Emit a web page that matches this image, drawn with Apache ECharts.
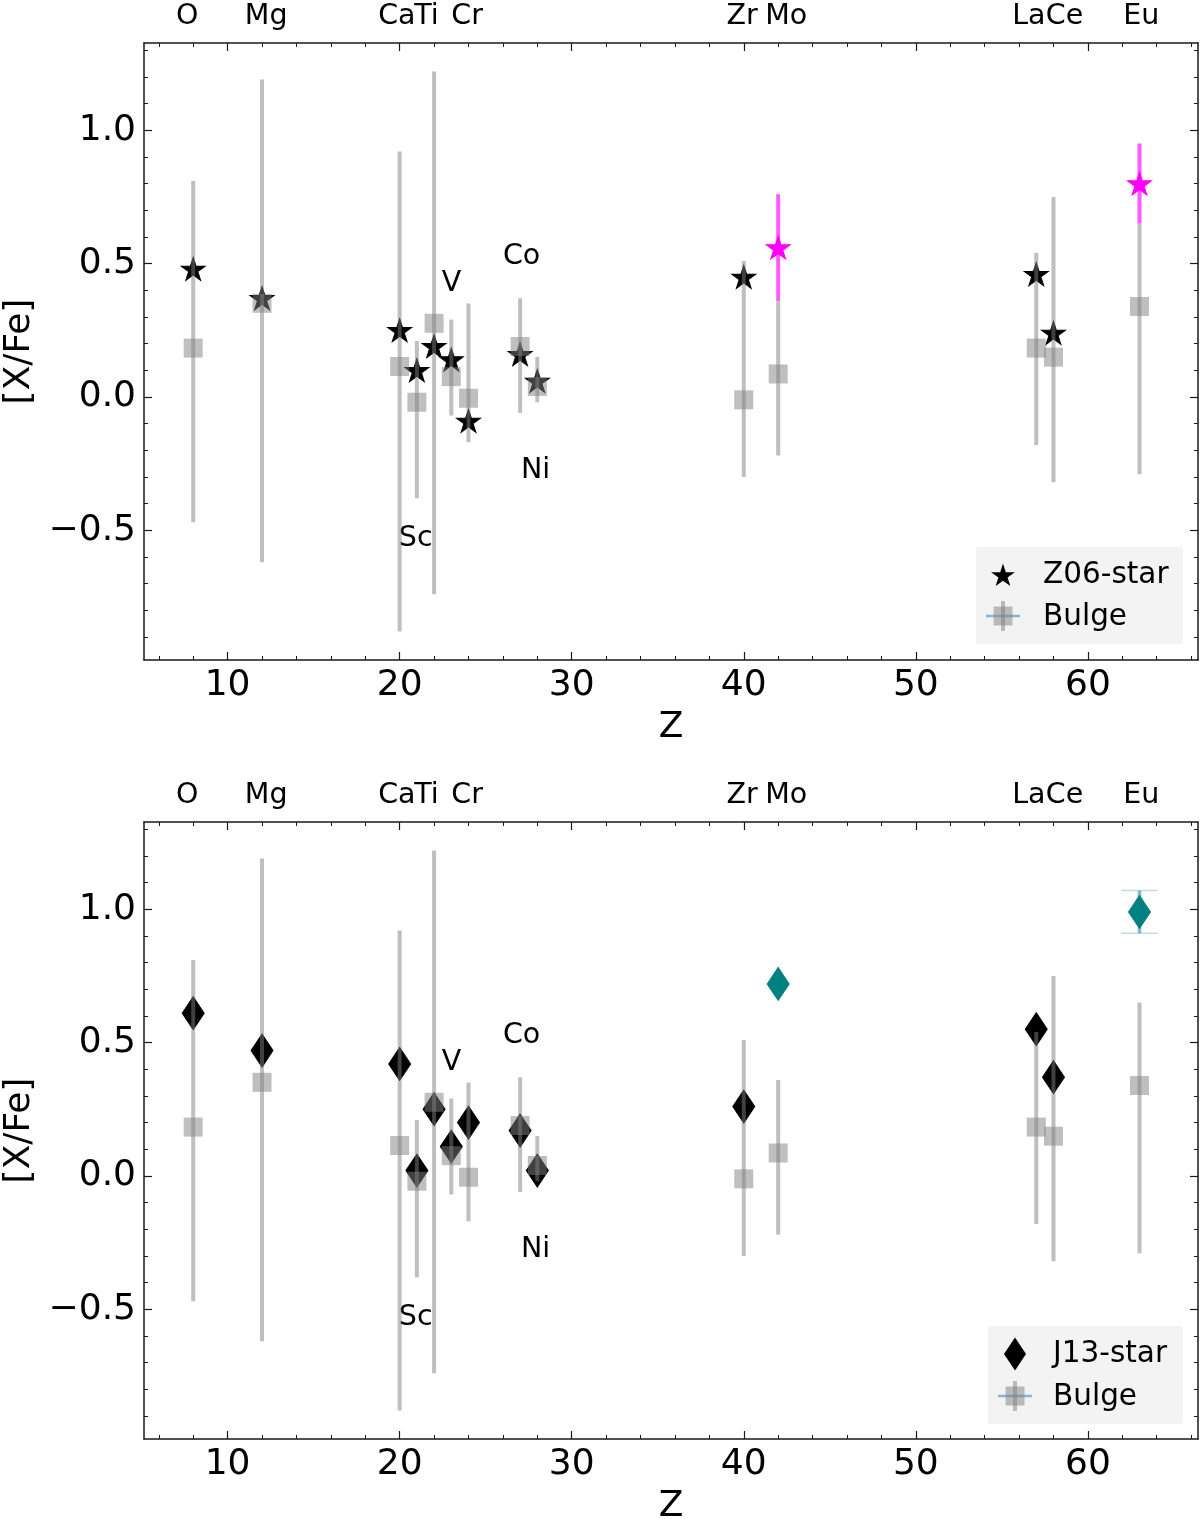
<!DOCTYPE html>
<html>
<head>
<meta charset="utf-8">
<script src="https://cdn.jsdelivr.net/npm/echarts@6/dist/echarts.min.js"></script>
<style>html,body{margin:0;padding:0;background:#fff}#c{width:1200px;height:1519px}</style>
</head>
<body>
<div id="c"></div>
<script>
// ---------------- data ----------------
const elementZ = [8, 12, 20, 21, 22, 23, 24, 27, 28, 40, 42, 57, 58, 63];
const bulgeVal = [0.183, 0.351, 0.114, -0.020, 0.276, 0.076, -0.005, 0.189, 0.039, -0.011, 0.086, 0.183, 0.149, 0.339];
const bulgeLow = [-0.47, -0.62, -0.88, -0.38, -0.74, -0.07, -0.17, -0.06, -0.02, -0.30, -0.22, -0.18, -0.32, -0.29];
const bulgeHigh = [0.81, 1.19, 0.92, 0.21, 1.22, 0.29, 0.35, 0.37, 0.15, 0.51, 0.36, 0.54, 0.75, 0.65];

const starZ = [8, 12, 20, 21, 22, 23, 24, 27, 28, 40, 57, 58];
const z06Val = [0.48, 0.37, 0.25, 0.10, 0.19, 0.14, -0.09, 0.16, 0.06, 0.45, 0.46, 0.24];
const j13Val = [0.61, 0.47, 0.42, 0.02, 0.25, 0.11, 0.20, 0.17, 0.02, 0.26, 0.55, 0.37];

const specialZ = [42, 63];
const z06SpecialVal = [0.56, 0.80];
const z06SpecialErr = [0.20, 0.15];
const j13SpecialVal = [0.72, 0.99];
const j13SpecialErr = [0, 0.08];

const topLabels = ['O', 'Mg', 'Ca', 'Ti', 'Cr', 'Zr', 'Mo', 'La', 'Ce', 'Eu'];
const topLabelZ = [7.0, 11.0, 18.75, 20.85, 23.0, 39.0, 41.25, 55.6, 57.55, 62.05];
const topLabelY = 1.4;
const innerLabels = ['V', 'Co', 'Ni', 'Sc'];
const innerLabelZ = [22.45, 26.0, 27.05, 19.95];
const innerLabelY = [0.40, 0.50, -0.30, -0.555];

const xMajor = [10, 20, 30, 40, 50, 60];
const xMinor = [6, 8, 12, 14, 16, 18, 22, 24, 26, 28, 32, 34, 36, 38, 42, 44, 46, 48, 52, 54, 56, 58, 62, 64, 66];
const yMajor = [-0.5, 0, 0.5, 1.0];
const yMinor = [-0.9, -0.8, -0.7, -0.6, -0.4, -0.3, -0.2, -0.1, 0.1, 0.2, 0.3, 0.4, 0.6, 0.7, 0.8, 0.9, 1.1, 1.2, 1.3];

// ---------------- styling ----------------
const FONT = 'DejaVu Sans';
const X_MIN = 5.14, X_MAX = 66.4, Y_MIN = -0.9865, Y_MAX = 1.327;
const GRAY = 'rgba(128,128,128,0.5)';
const AXC = '#1a1a1a';
const LABEL_FS = 28.5;
const LEGEND_FS = 29.5;

const STAR = 'path://M0,-100L22.45,-30.9L95.11,-30.9L36.33,11.8L58.78,80.9L0,38.2L-58.78,80.9L-36.33,11.8L-95.11,-30.9L-22.45,-30.9Z';

function xAxes(g) {
  const base = {type: 'value', gridIndex: g, min: X_MIN, max: X_MAX, splitLine: {show: false}};
  return [
    Object.assign({}, base, {
      position: 'bottom',
      axisLine: {show: true, onZero: false, lineStyle: {color: AXC, width: 1.5}},
      axisTick: {show: true, inside: true, length: 8, customValues: xMajor, lineStyle: {color: AXC, width: 1.2}},
      axisLabel: {show: true, customValues: xMajor, fontSize: 36, fontFamily: FONT, color: '#000', margin: 8},
      name: 'Z', nameLocation: 'middle', nameGap: 50,
      nameTextStyle: {fontSize: 36, fontFamily: FONT, color: '#000'}
    }),
    Object.assign({}, base, {
      position: 'bottom',
      axisLine: {show: false, onZero: false},
      axisTick: {show: true, inside: true, length: 4, customValues: xMinor, lineStyle: {color: AXC, width: 1}},
      axisLabel: {show: false}
    }),
    Object.assign({}, base, {
      position: 'top',
      axisLine: {show: true, onZero: false, lineStyle: {color: AXC, width: 1.5}},
      axisTick: {show: true, inside: true, length: 8, customValues: xMajor, lineStyle: {color: AXC, width: 1.2}},
      axisLabel: {show: false}
    }),
    Object.assign({}, base, {
      position: 'top',
      axisLine: {show: false, onZero: false},
      axisTick: {show: true, inside: true, length: 4, customValues: xMinor, lineStyle: {color: AXC, width: 1}},
      axisLabel: {show: false}
    })
  ];
}

function yAxes(g) {
  const base = {type: 'value', gridIndex: g, min: Y_MIN, max: Y_MAX, splitLine: {show: false}};
  return [
    Object.assign({}, base, {
      position: 'left',
      axisLine: {show: true, onZero: false, lineStyle: {color: AXC, width: 1.5}},
      axisTick: {show: true, inside: true, length: 8, customValues: yMajor, lineStyle: {color: AXC, width: 1.2}},
      axisLabel: {
        show: true, customValues: yMajor, fontSize: 36, fontFamily: FONT, color: '#000', margin: 8,
        formatter: v => (v < 0 ? '\u2212' : '') + Math.abs(v).toFixed(1)
      },
      name: '[X/Fe]', nameLocation: 'middle', nameGap: 104, nameRotate: 90,
      nameTextStyle: {fontSize: 36, fontFamily: FONT, color: '#000'}
    }),
    Object.assign({}, base, {
      position: 'left',
      axisLine: {show: false, onZero: false},
      axisTick: {show: true, inside: true, length: 4, customValues: yMinor, lineStyle: {color: AXC, width: 1}},
      axisLabel: {show: false}
    }),
    Object.assign({}, base, {
      position: 'right',
      axisLine: {show: true, onZero: false, lineStyle: {color: AXC, width: 1.5}},
      axisTick: {show: true, inside: true, length: 8, customValues: yMajor, lineStyle: {color: AXC, width: 1.2}},
      axisLabel: {show: false}
    }),
    Object.assign({}, base, {
      position: 'right',
      axisLine: {show: false, onZero: false},
      axisTick: {show: true, inside: true, length: 4, customValues: yMinor, lineStyle: {color: AXC, width: 1}},
      axisLabel: {show: false}
    })
  ];
}

function errRender(color, width, capW, capColor) {
  return function (params, api) {
    const x = api.value(0), lo = api.value(1), hi = api.value(2);
    const a = api.coord([x, lo]), b = api.coord([x, hi]);
    const children = [{
      type: 'line', shape: {x1: a[0], y1: a[1], x2: b[0], y2: b[1]},
      style: {stroke: color, lineWidth: width}
    }];
    if (capW) {
      [a, b].forEach(p => children.push({
        type: 'line', shape: {x1: p[0] - capW / 2, y1: p[1], x2: p[0] + capW / 2, y2: p[1]},
        style: {stroke: capColor, lineWidth: 1.5}
      }));
    }
    return {type: 'group', children: children};
  };
}

const labelData = topLabels.map((t, i) => [topLabelZ[i], topLabelY, t])
  .concat(innerLabels.map((t, i) => [innerLabelZ[i], innerLabelY[i], t]));

const bulgeErrData = elementZ.map((z, i) => [z, bulgeLow[i], bulgeHigh[i]]);
const bulgePts = elementZ.map((z, i) => [z, bulgeVal[i]]);

function panelSeries(ax, mainVal, specVal, specErr, kind) {
  const isStar = kind === 'star';
  const mainSym = isStar ? STAR : 'diamond';
  const mainSize = isStar ? [24, 23] : [22, 33];
  const specColor = isStar ? '#ff00ff' : '#008080';
  const specErrColor = isStar ? 'rgba(255,0,255,0.65)' : 'rgba(0,128,128,0.5)';
  const specErrData = specialZ.map((z, i) => [z, specVal[i] - specErr[i], specVal[i] + specErr[i]])
    .filter((d, i) => specErr[i] > 0);
  return [
    {
      type: 'scatter', name: 'labels', xAxisIndex: ax, yAxisIndex: ax, z: 1, silent: true, clip: false,
      symbolSize: 0, data: labelData, itemStyle: {opacity: 1},
      label: {
        show: true, position: [0, 0], align: 'left', verticalAlign: 'bottom', offset: [0, 8],
        formatter: p => p.data[2], fontSize: LABEL_FS, fontFamily: FONT, color: '#000', opacity: 1
      }
    },
    {
      type: 'scatter', name: isStar ? 'Z06-star' : 'J13-star', xAxisIndex: ax, yAxisIndex: ax, z: 2,
      symbol: mainSym, symbolSize: mainSize,
      itemStyle: {color: '#000', borderColor: '#000', borderWidth: 1, opacity: 1},
      data: starZ.map((z, i) => [z, mainVal[i]])
    },
    {
      type: 'custom', name: 'Bulge err', xAxisIndex: ax, yAxisIndex: ax, z: 3,
      renderItem: errRender(GRAY, 4), data: bulgeErrData, encode: {x: 0, y: [1, 2]}
    },
    {
      type: 'scatter', name: 'Bulge', xAxisIndex: ax, yAxisIndex: ax, z: 3,
      symbol: 'rect', symbolSize: 19, itemStyle: {color: GRAY, opacity: 1}, data: bulgePts
    },
    {
      type: 'custom', name: 'special err', xAxisIndex: ax, yAxisIndex: ax, z: 4,
      renderItem: isStar ? errRender(specErrColor, 4) : errRender(specErrColor, 3.5, 37, 'rgba(0,128,128,0.25)'),
      data: specErrData, encode: {x: 0, y: [1, 2]}
    },
    {
      type: 'scatter', name: 'special', xAxisIndex: ax, yAxisIndex: ax, z: 5,
      symbol: mainSym, symbolSize: mainSize,
      itemStyle: {color: specColor, borderColor: specColor, borderWidth: 1, opacity: 1},
      data: specialZ.map((z, i) => [z, specVal[i]])
    }
  ];
}

function starPoints(cx, cy, R) {
  const pts = [];
  for (let k = 0; k < 10; k++) {
    const r = k % 2 === 0 ? R : R * 0.382;
    const ang = (90 + k * 36) * Math.PI / 180;
    pts.push([cx + r * Math.cos(ang), cy - r * Math.sin(ang)]);
  }
  return pts;
}

function legendGraphic(box, iconX, row1Y, row2Y, textX, label, kind) {
  const font = LEGEND_FS + 'px "' + FONT + '"';
  const els = [
    {type: 'rect', shape: {x: box[0], y: box[1], width: box[2], height: box[3], r: 3},
     style: {fill: '#f3f3f3', stroke: 'none'}, z: 50}
  ];
  if (kind === 'star') {
    els.push({type: 'polygon', shape: {points: starPoints(iconX, row1Y + 1, 12.5)}, style: {fill: '#000'}, z: 51});
  } else {
    els.push({type: 'polygon', shape: {points: [[iconX, row1Y - 16.5], [iconX + 11, row1Y], [iconX, row1Y + 16.5], [iconX - 11, row1Y]]},
      style: {fill: '#000'}, z: 51});
  }
  els.push({type: 'text', x: textX, y: row1Y, style: {text: label, font: font, fill: '#000', verticalAlign: 'middle', align: 'left'}, z: 51});
  els.push({type: 'line', shape: {x1: iconX - 17, y1: row2Y, x2: iconX + 17, y2: row2Y}, style: {stroke: 'rgba(31,119,180,0.5)', lineWidth: 2.5}, z: 51});
  els.push({type: 'line', shape: {x1: iconX, y1: row2Y - 15, x2: iconX, y2: row2Y + 15}, style: {stroke: GRAY, lineWidth: 4}, z: 52});
  els.push({type: 'rect', shape: {x: iconX - 9.5, y: row2Y - 9.5, width: 19, height: 19}, style: {fill: GRAY}, z: 52});
  els.push({type: 'text', x: textX, y: row2Y + 1, style: {text: 'Bulge', font: font, fill: '#000', verticalAlign: 'middle', align: 'left'}, z: 51});
  return els;
}

const option = {
  animation: false,
  backgroundColor: '#fff',
  textStyle: {fontFamily: FONT},
  grid: [
    {left: 144, top: 43, width: 1054, height: 617, containLabel: false, outerBoundsMode: 'none'},
    {left: 144, top: 822, width: 1054, height: 617, containLabel: false, outerBoundsMode: 'none'}
  ],
  xAxis: xAxes(0).concat(xAxes(1)),
  yAxis: yAxes(0).concat(yAxes(1)),
  series: panelSeries(0, z06Val, z06SpecialVal, z06SpecialErr, 'star')
    .concat(panelSeries(4, j13Val, j13SpecialVal, j13SpecialErr, 'diamond')),
  graphic: legendGraphic([976, 547, 207, 97], 1003, 575, 616, 1043, 'Z06-star', 'star')
    .concat(legendGraphic([988, 1326, 195, 98], 1015, 1354, 1396, 1053, 'J13-star', 'diamond'))
};

const chart = echarts.init(document.getElementById('c'), null, {renderer: 'canvas'});
chart.setOption(option);
</script>
</body>
</html>
